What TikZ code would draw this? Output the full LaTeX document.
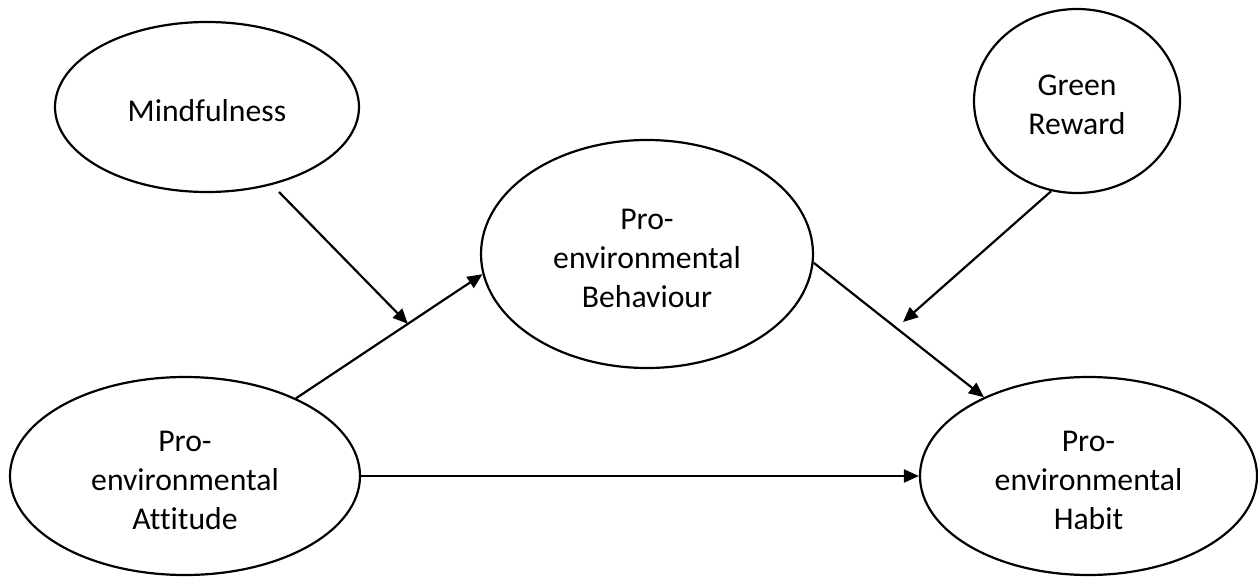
\documentclass[tikz,border=0pt]{standalone}
\usepackage{fontspec}
\setmainfont[Ligatures=NoCommon]{Carlito}
\usetikzlibrary{arrows.meta,calc,shapes.geometric}
\newcommand{\topstrut}{\rule{0pt}{14.5pt}}
\begin{document}
\begin{tikzpicture}[x=0.5pt,y=-0.5pt,
  var/.style={ellipse,draw,line width=1.1pt,inner sep=0pt,align=center,
    font=\fontsize{15.85}{19.4}\selectfont},
  conn/.style={line width=1.1pt,-{Triangle[length=7.5pt,width=6.5pt]}}]
\useasboundingbox (0,0) rectangle (1258,578);
\node[var,minimum width=152pt,minimum height=85pt] (mind) at (207,107) {\topstrut Mindfulness};
\node[var,minimum width=103pt,minimum height=92pt] (gr) at (1077,101) {\topstrut Green\\Reward};
\node[var,minimum width=166pt,minimum height=114pt] (beh) at (647,254) {\topstrut Pro-\\environmental\\Behaviour};
\node[var,minimum width=175pt,minimum height=99pt] (att) at (185,476) {\topstrut Pro-\\environmental\\Attitude};
\node[var,minimum width=168.5pt,minimum height=99pt] (hab) at (1088.5,476) {\topstrut Pro-\\environmental\\Habit};
\draw[conn] (att.35) -- (beh.187);
\draw[conn] (att.east) -- (hab.west);
\draw[conn] (beh.-3) -- (hab.143);
\coordinate (mstart) at (279,192);
\coordinate (mend) at ($(att.35)!0.6!(beh.187)$);
\draw[conn] (mstart) -- (mend);
\coordinate (gend) at (903,322);
\draw[conn] (gr.-106) -- (gend);
\end{tikzpicture}
\end{document}
